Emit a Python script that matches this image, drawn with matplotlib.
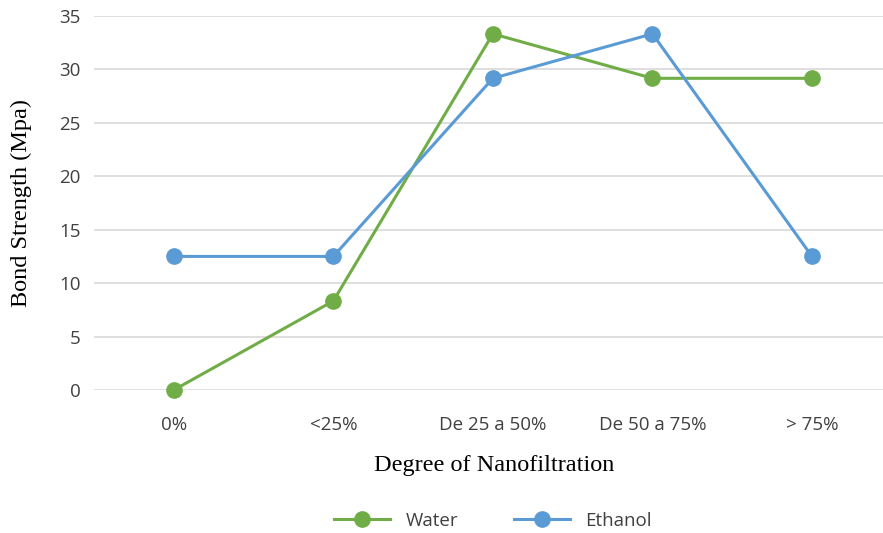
import numpy as np
import matplotlib.pyplot as plt
from matplotlib.lines import Line2D

categories = ['0%', '<25%', 'De 25 a 50%', 'De 50 a 75%', '> 75%']
water = [0, 8.33, 33.33, 29.17, 29.17]
ethanol = [12.5, 12.5, 29.17, 33.33, 12.5]

green = '#70AD47'
blue = '#5B9BD5'

fig = plt.figure(figsize=(8.83, 5.33), dpi=100)
ax = fig.add_axes([94 / 883, 1 - 390 / 533, 1 - 94 / 883, (390 - 16) / 533])

x = np.arange(len(categories))
ax.plot(x, water, color=green, lw=2.2, marker='o', ms=11, label='Water', zorder=3, clip_on=False)
ax.plot(x, ethanol, color=blue, lw=2.2, marker='o', ms=11, label='Ethanol', zorder=3, clip_on=False)

ax.set_xlim(-0.5, 4.445)
ax.set_ylim(0, 35)
ax.set_yticks(range(0, 36, 5))
ax.set_xticks(x)
ax.set_xticklabels(categories)
ax.grid(axis='y', color='#D9D9D9', lw=1.2)
ax.set_axisbelow(True)
for s in ax.spines.values():
    s.set_visible(False)
ax.tick_params(length=0, labelsize=13.5, colors='#404040', labelfontfamily='Open Sans')
ax.tick_params(axis='x', pad=19)
ax.tick_params(axis='y', pad=9.5)

fig.text(21 / 883, 1 - 203 / 533, 'Bond Strength (Mpa)', rotation=90, ha='center', va='center',
         family='Liberation Serif', fontsize=17.5)
fig.text(494 / 883, 1 - 466 / 533, 'Degree of Nanofiltration', ha='center', va='center',
         family='Liberation Serif', fontsize=17.5)

handles = [Line2D([], [], color=green, lw=2.2, marker='o', ms=11),
           Line2D([], [], color=blue, lw=2.2, marker='o', ms=11)]
fig.legend(handles, ['Water', 'Ethanol'], loc='center', bbox_to_anchor=(493 / 883, 1 - 521 / 533),
           ncol=2, frameon=False, handlelength=3.0, handletextpad=0.8, columnspacing=3.0,
           prop={'family': 'Open Sans', 'size': 13.5}, labelcolor='#404040')

fig.savefig('out.png')
